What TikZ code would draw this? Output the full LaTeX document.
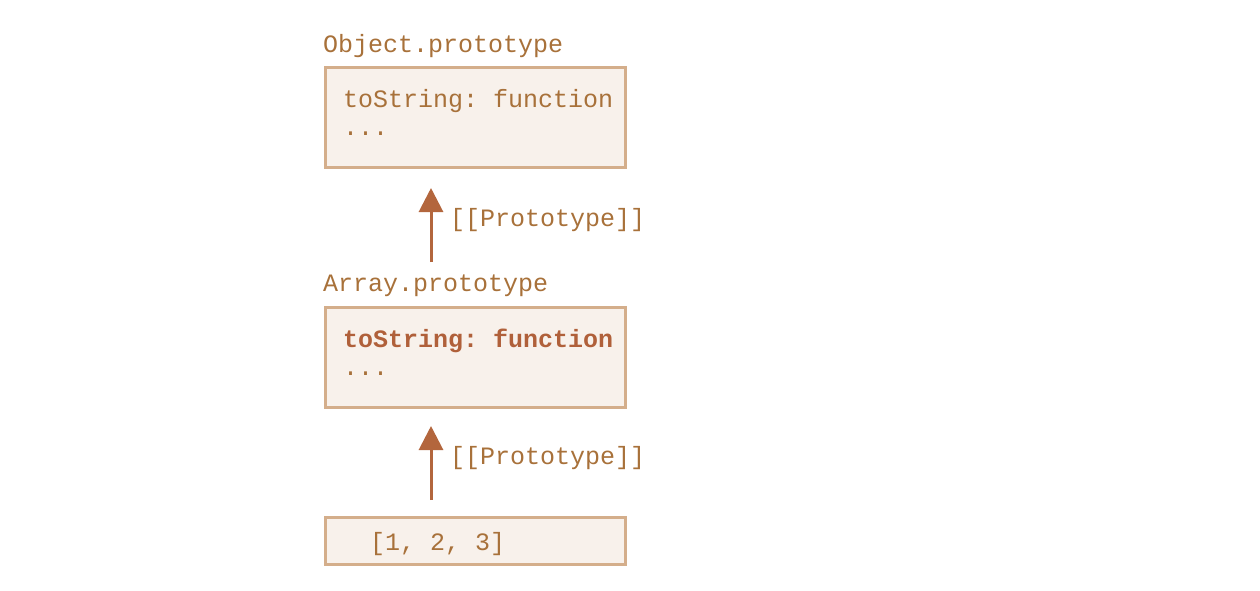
\documentclass[tikz,border=0pt]{standalone}
\usepackage{fontspec}
\setmonofont{Liberation Mono}
\usetikzlibrary{arrows.meta}
\definecolor{bordc}{HTML}{D4AE8B}
\definecolor{fillc}{HTML}{F8F1EB}
\definecolor{txtc}{HTML}{A8713A}
\definecolor{boldc}{HTML}{B0603A}
\definecolor{arrc}{HTML}{B3663D}
\tikzset{
  objbox/.style={draw=bordc, fill=fillc, line width=3pt, inner sep=0pt},
  txt/.style={anchor=base west, inner sep=0pt, text=txtc, font=\fontsize{25}{30}\selectfont\ttfamily},
  btxt/.style={anchor=base west, inner sep=0pt, text=boldc, font=\fontsize{25}{30}\selectfont\ttfamily\bfseries},
  arr/.style={draw=arrc, line width=3pt, -{Triangle[length=24pt,width=24pt]}}
}
\begin{document}
\begin{tikzpicture}[x=1pt,y=-1pt]
\useasboundingbox (0,0) rectangle (1260,590);
% boxes
\node[objbox, minimum width=300pt, minimum height=100pt] (b1) at (475.5,117.5) {};
\node[objbox, minimum width=300pt, minimum height=100pt] (b2) at (475.5,357.5) {};
\node[objbox, minimum width=300pt, minimum height=47pt] (b3) at (475.5,541) {};
% titles
\node[txt] (t1) at (323,52) {Object.prototype};
\node[txt] (t2) at (323,291) {Array.prototype};
% contents
\node[txt] (c1) at (343,107) {toString: function};
\node[txt] (d1) at (343,135) {...};
\node[btxt] (c2) at (343,347) {toString: function};
\node[txt] (d2) at (343,375) {...};
\node[txt] (c3) at (370,550) {[1, 2, 3]};
% arrows
\coordinate (a1s) at (431,262);
\coordinate (a1e) at (431,188);
\coordinate (a2s) at (431,500);
\coordinate (a2e) at (431,426);
\draw[arr] (a1s) -- (a1e);
\draw[arr] (a2s) -- (a2e);
\node[txt] (l1) at (450,226) {[[Prototype]]};
\node[txt] (l2) at (450,464) {[[Prototype]]};
\end{tikzpicture}
\end{document}
